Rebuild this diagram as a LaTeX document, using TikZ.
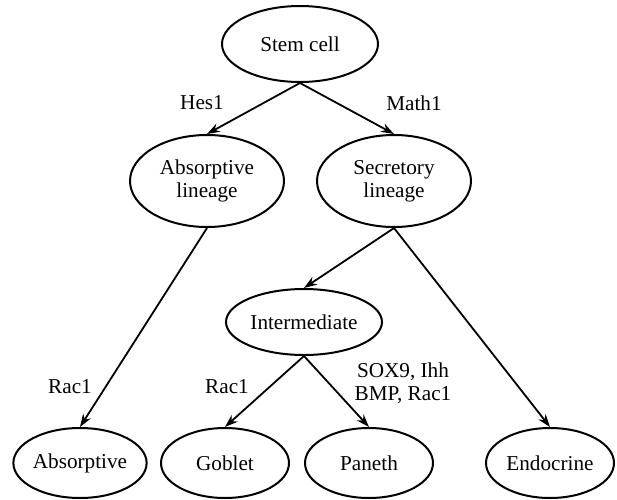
\documentclass[tikz,border=0pt]{standalone}
\usepackage{fontspec}
\setmainfont{Liberation Serif}
\usepackage{tikz}
\usetikzlibrary{arrows.meta, shapes.geometric}

\begin{document}
\begin{tikzpicture}[
  x=0.5pt, y=-0.5pt,
  cell/.style={draw, ellipse, line width=1pt, inner sep=0pt, align=center},
  lineage/.style={cell, minimum width=77pt, minimum height=46pt},
  fate/.style={cell, minimum width=64pt, minimum height=35pt},
  signal/.style={align=center},
  every node/.style={font=\fontsize{10.6}{11.5}\selectfont},
  arr/.style={-{Stealth[length=6.5pt, width=4.5pt]}, line width=0.9pt}
]
  \useasboundingbox (0,0) rectangle (617,499);

  % Stem cell and the two lineages
  \node[cell, minimum width=78pt, minimum height=38pt] (stem) at (300,44) {Stem cell};
  \node[lineage] (abslin) at (207,181) {Absorptive\\lineage};
  \node[lineage] (seclin) at (394,181) {Secretory\\lineage};

  % Intermediate progenitor
  \node[cell, minimum width=78pt, minimum height=33pt] (inter) at (304,322) {Intermediate};

  % Terminal cell types
  \node[fate] (absorb) at (80,463) {Absorptive};
  \node[fate] (goblet) at (225,463) {Goblet};
  \node[fate] (paneth) at (369,463) {Paneth};
  \node[fate] (endo) at (550,463) {Endocrine};

  % Arrows
  \draw[arr] (stem.south) -- (abslin.north);
  \draw[arr] (stem.south) -- (seclin.north);
  \draw[arr] (abslin.south) -- (absorb.north);
  \draw[arr] (seclin.south) -- (inter.north);
  \draw[arr] (seclin.south) -- (endo.north);
  \draw[arr] (inter.south) -- (goblet.north);
  \draw[arr] (inter.south) -- (paneth.north);

  % Signals
  \node[signal] (hes) at (202,103) {Hes1};
  \node[signal] (math) at (414,103) {Math1};
  \node[signal] (racabs) at (70,387) {Rac1};
  \node[signal] (racgob) at (227,387) {Rac1};
  \node[signal] (pansig) at (403,383) {SOX9, Ihh\\BMP, Rac1};

\end{tikzpicture}
\end{document}
